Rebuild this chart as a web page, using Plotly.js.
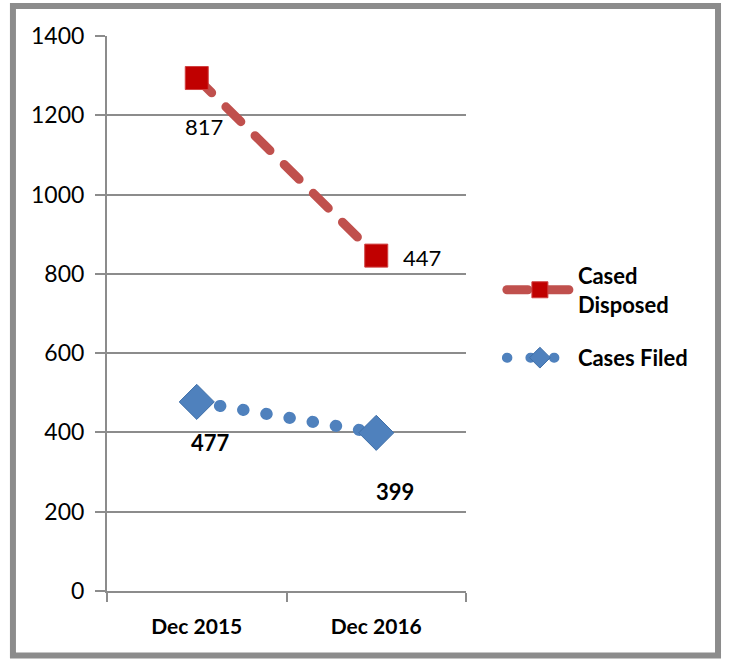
<!DOCTYPE html>
<html>
<head>
<meta charset="utf-8">
<script src="https://cdn.plot.ly/plotly-3.0.1.min.js"></script>
<style>html,body{margin:0;padding:0;background:#fff;}</style>
</head>
<body>
<div id="chart" style="width:730px;height:660px;"></div>
<script>
var categories = ["Dec 2015", "Dec 2016"];
var casesFiled = [477, 399];
var casesDisposed = [817, 447];
var seriesNames = ["Cases Filed", "Cased<br>Disposed"];
var yTicks = [0, 200, 400, 600, 800, 1000, 1200, 1400];

var FONT = "Lato, 'Open Sans', sans-serif";
var gray = "#8c8c8c";

var traceFiled = {
  x: categories, y: casesFiled, name: seriesNames[0], legendgroup: "a", legendrank: 2,
  type: "scatter", mode: "lines+markers", stackgroup: "s", fill: "none",
  line: {color: "#4F81BD", width: 12, dash: "0.5px,23px"},
  marker: {symbol: "diamond", size: 27, color: "#4F81BD", line: {color: "#3f6fa8", width: 1}},
  hoverinfo: "skip"
};
var traceDisposed = {
  x: categories, y: casesDisposed, name: seriesNames[1], legendgroup: "b", legendrank: 1,
  type: "scatter", mode: "lines+markers", stackgroup: "s", fill: "none",
  line: {color: "#C0504D", width: 9, dash: "21px,20px"},
  marker: {symbol: "square", size: 23, color: "#C00000", line: {color: "#d04040", width: 1}},
  hoverinfo: "skip"
};

// label offsets (pixels) relative to stacked points
var filedShift = [[14, -41], [19, -59]];
var disposedShift = [[7, -48], [46, -2]];
var annotations = [];
categories.forEach(function (c, i) {
  annotations.push({
    x: c, y: casesFiled[i], xref: "x", yref: "y", showarrow: false,
    text: "<b>" + casesFiled[i] + "</b>",
    xshift: filedShift[i][0], yshift: filedShift[i][1],
    font: {family: FONT, size: 22, color: "#000"}
  });
  annotations.push({
    x: c, y: casesFiled[i] + casesDisposed[i], xref: "x", yref: "y", showarrow: false,
    text: String(casesDisposed[i]),
    xshift: disposedShift[i][0], yshift: disposedShift[i][1],
    font: {family: FONT, size: 22, color: "#000"}
  });
});

var layout = {
  width: 730, height: 660,
  margin: {l: 107, r: 264, t: 36, b: 69, pad: 0},
  paper_bgcolor: "#fff", plot_bgcolor: "#fff",
  font: {family: FONT, size: 21, color: "#000"},
  showlegend: true,
  legend: {
    x: 1.1, xanchor: "left", y: 0.606, yanchor: "top",
    traceorder: "grouped", tracegroupgap: 22, itemwidth: 66,
    font: {family: FONT, size: 22, color: "#000", weight: "bold"},
    bgcolor: "rgba(0,0,0,0)"
  },
  xaxis: {
    type: "category", range: [-0.5, 1.5],
    showgrid: false, showline: true, linecolor: gray, linewidth: 2,
    ticks: "outside", tickson: "boundaries", ticklen: 9, tickcolor: gray, tickwidth: 2,
    tickfont: {family: FONT, size: 21, color: "#000", weight: "bold"},
    ticklabelstandoff: 16, zeroline: false, fixedrange: true
  },
  yaxis: {
    range: [0, 1400], tickvals: yTicks, ticktext: yTicks.map(String),
    showgrid: true, gridcolor: gray, gridwidth: 2,
    showline: true, linecolor: gray, linewidth: 2,
    ticks: "outside", ticklen: 10, tickcolor: gray, tickwidth: 2,
    tickfont: {family: FONT, size: 23, color: "#000"},
    ticklabelstandoff: 6, zeroline: false, fixedrange: true
  },
  annotations: annotations,
  shapes: [{
    type: "rect", xref: "paper", yref: "paper",
    x0: -0.262, x1: 1.702, y0: -0.116, y1: 1.054,
    line: {color: gray, width: 6}, fillcolor: "rgba(0,0,0,0)", layer: "below"
  }]
};

Plotly.newPlot("chart", [traceFiled, traceDisposed], layout, {displayModeBar: false, staticPlot: true}).then(function (gd) {
  var paths = gd.querySelectorAll(".scatterlayer .js-line, .legend .js-line");
  paths.forEach(function (p) { p.style.strokeLinecap = "round"; });
});
</script>
</body>
</html>
